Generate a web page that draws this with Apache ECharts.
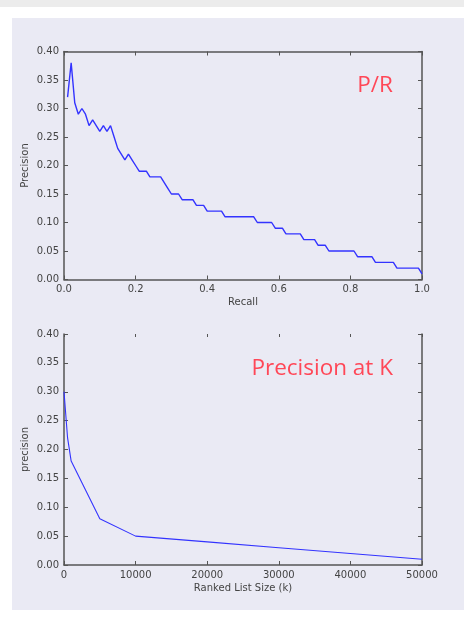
<!DOCTYPE html>
<html>
<head>
<meta charset="utf-8">
<script src="https://cdn.jsdelivr.net/npm/echarts@6/dist/echarts.min.js"></script>
<style>
  html, body { margin: 0; padding: 0; width: 464px; height: 617px; background: #ffffff; overflow: hidden; }
  #band { position: absolute; left: 0; top: 0; width: 464px; height: 7px; background: #ececec; }
  #panel { position: absolute; left: 12px; top: 18px; width: 452px; height: 592px; background: #eaeaf4; }
  #chart { position: absolute; left: 0; top: 0; width: 464px; height: 617px; }
</style>
</head>
<body>
<div id="band"></div>
<div id="panel"></div>
<div id="chart"></div>
<script>
// ---- Data: Precision / Recall curve ----
const recall = [0.01,0.02,0.03,0.04,0.05,0.06,0.07,0.08,0.09,0.10,0.11,0.12,0.13,0.14,0.15,0.16,0.17,0.18,0.19,0.20,0.21,0.23,0.24,0.27,0.28,0.29,0.30,0.32,0.33,0.36,0.37,0.39,0.40,0.44,0.45,0.53,0.54,0.58,0.59,0.61,0.62,0.66,0.67,0.70,0.71,0.73,0.74,0.81,0.82,0.86,0.87,0.92,0.93,0.99,1.00];
const precision = [0.32,0.38,0.31,0.29,0.30,0.29,0.27,0.28,0.27,0.26,0.27,0.26,0.27,0.25,0.23,0.22,0.21,0.22,0.21,0.20,0.19,0.19,0.18,0.18,0.17,0.16,0.15,0.15,0.14,0.14,0.13,0.13,0.12,0.12,0.11,0.11,0.10,0.10,0.09,0.09,0.08,0.08,0.07,0.07,0.06,0.06,0.05,0.05,0.04,0.04,0.03,0.03,0.02,0.02,0.01];

// ---- Data: Precision at K ----
const listSize = [1, 500, 1000, 5000, 10000, 20000, 30000, 40000, 50000];
const precisionAtK = [0.30, 0.22, 0.18, 0.08, 0.05, 0.04, 0.03, 0.02, 0.01];

// ---- Labels ----
const titlePR = 'P/R';
const titlePK = 'Precision at K';
const xNamePR = 'Recall';
const yNamePR = 'Precision';
const xNamePK = 'Ranked List Size (k)';
const yNamePK = 'precision';

const spineColor = '#555555';
const labelColor = '#444444';
const font = 'DejaVu Sans';
const lineBlue = '#3333ff';

function axisBase(extra) {
  return Object.assign({
    type: 'value',
    splitLine: { show: false },
    nameMoveOverlap: false,
    axisLine: { show: true, onZero: false, lineStyle: { color: spineColor, width: 1.5 } },
    axisTick: { show: true, inside: true, length: 4, lineStyle: { color: spineColor, width: 1 } },
    axisLabel: { show: true, color: labelColor, fontFamily: font, fontSize: 10, margin: 5 },
    nameTextStyle: { color: labelColor, fontFamily: font, fontSize: 10 }
  }, extra);
}
function hiddenLabels(o) { o.axisLabel = Object.assign({}, o.axisLabel, { show: false }); return o; }

const chart = echarts.init(document.getElementById('chart'), null, { renderer: 'canvas' });

const titleStyle = { color: '#ff4757', fontFamily: 'Open Sans', fontSize: 22.5, fontWeight: 'normal' };

const option = {
  backgroundColor: 'transparent',
  animation: false,
  grid: [
    { left: 64, right: 42, top: 51.5, height: 228, containLabel: false },
    { left: 64, right: 42, top: 334, height: 231, containLabel: false }
  ],
  title: [
    { text: titlePR, right: 66, top: 69, textStyle: titleStyle },
    { text: titlePK, right: 66, top: 352, textStyle: titleStyle }
  ],
  xAxis: [
    axisBase({ gridIndex: 0, position: 'bottom', min: 0, max: 1, interval: 0.2,
      name: xNamePR, nameLocation: 'middle', nameGap: 18,
      axisLabel: { show: true, color: labelColor, fontFamily: font, fontSize: 10, margin: 5, formatter: v => v.toFixed(1) } }),
    hiddenLabels(axisBase({ gridIndex: 0, position: 'top', min: 0, max: 1, interval: 0.2 })),
    axisBase({ gridIndex: 1, position: 'bottom', min: 0, max: 50000, interval: 10000,
      name: xNamePK, nameLocation: 'middle', nameGap: 18,
      axisLabel: { show: true, color: labelColor, fontFamily: font, fontSize: 10, margin: 5, formatter: v => String(v) } }),
    (function(){ const o = hiddenLabels(axisBase({ gridIndex: 1, position: 'top', min: 0, max: 50000, interval: 10000 }));
      o.axisLine = { show: false, onZero: false };
      o.axisTick = { show: true, inside: true, length: 3, lineStyle: { color: spineColor, width: 1 } };
      return o; })()
  ],
  yAxis: [
    axisBase({ gridIndex: 0, position: 'left', min: 0, max: 0.4, interval: 0.05,
      name: yNamePR, nameLocation: 'middle', nameGap: 34,
      axisLabel: { show: true, color: labelColor, fontFamily: font, fontSize: 10, margin: 5, formatter: v => v.toFixed(2) } }),
    hiddenLabels(axisBase({ gridIndex: 0, position: 'right', min: 0, max: 0.4, interval: 0.05 })),
    axisBase({ gridIndex: 1, position: 'left', min: 0, max: 0.4, interval: 0.05,
      name: yNamePK, nameLocation: 'middle', nameGap: 34,
      axisLabel: { show: true, color: labelColor, fontFamily: font, fontSize: 10, margin: 5, formatter: v => v.toFixed(2) } }),
    hiddenLabels(axisBase({ gridIndex: 1, position: 'right', min: 0, max: 0.4, interval: 0.05 }))
  ],
  series: [
    { type: 'line', xAxisIndex: 0, yAxisIndex: 0, showSymbol: false, symbol: 'none',
      lineStyle: { color: lineBlue, width: 1.4 },
      data: recall.map((r, i) => [r, precision[i]]) },
    { type: 'line', xAxisIndex: 2, yAxisIndex: 2, showSymbol: false, symbol: 'none',
      lineStyle: { color: lineBlue, width: 1.1 },
      data: listSize.map((k, i) => [k, precisionAtK[i]]) }
  ]
};
chart.setOption(option);
</script>
</body>
</html>
